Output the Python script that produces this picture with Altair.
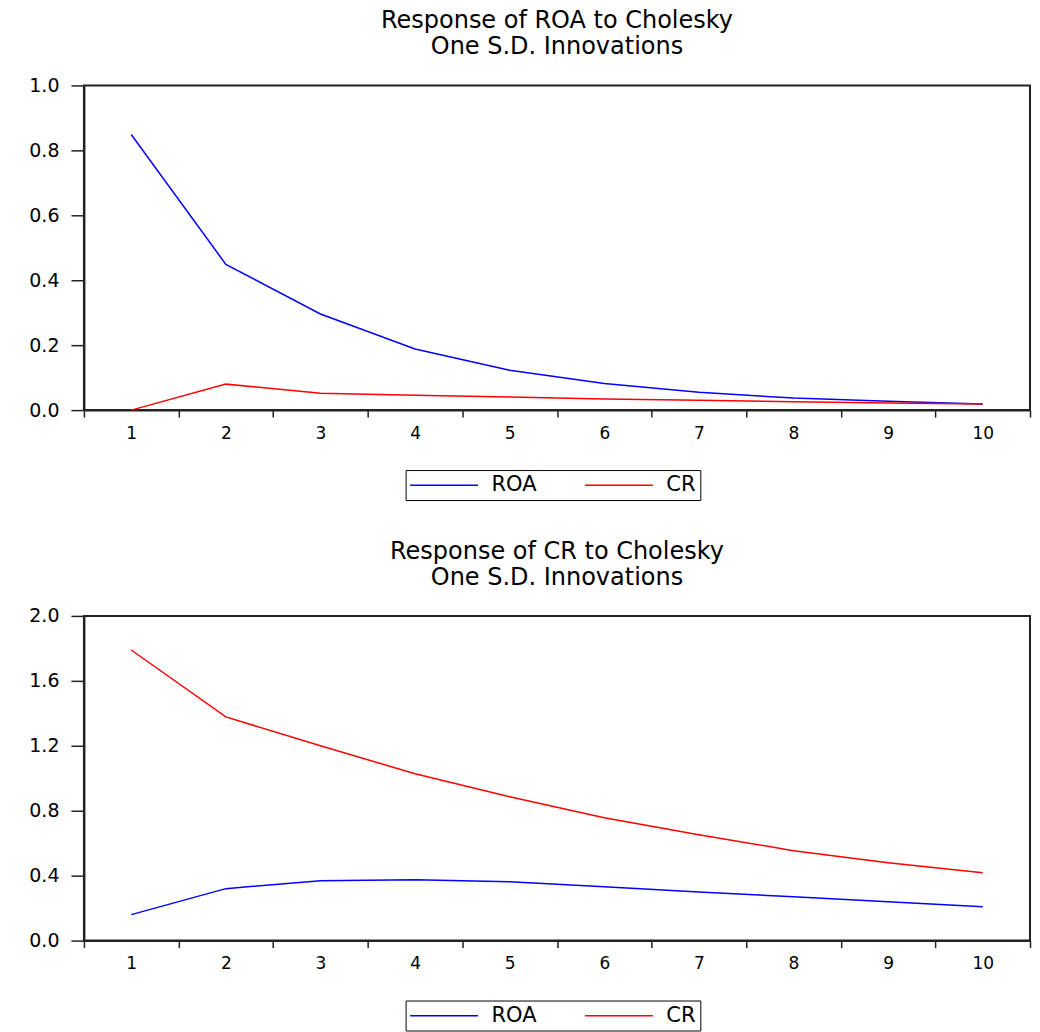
import altair as alt
import pandas as pd

periods = ["1", "2", "3", "4", "5", "6", "7", "8", "9", "10"]
series_names = ["ROA", "CR"]
series_colors = ["#0000FF", "#FF0000"]

# Response of ROA
roa_to_roa = [0.849, 0.449, 0.296, 0.188, 0.123, 0.082, 0.055, 0.037, 0.027, 0.019]
roa_to_cr = [0.000, 0.080, 0.052, 0.046, 0.040, 0.034, 0.030, 0.026, 0.022, 0.019]
# Response of CR
cr_to_roa = [0.160, 0.320, 0.369, 0.375, 0.363, 0.332, 0.300, 0.270, 0.240, 0.209]
cr_to_cr = [1.790, 1.378, 1.200, 1.028, 0.886, 0.757, 0.652, 0.554, 0.480, 0.418]

y_ticks_top = [0.0, 0.2, 0.4, 0.6, 0.8, 1.0]
y_ticks_bottom = [0.0, 0.4, 0.8, 1.2, 1.6, 2.0]

title_top = ["Response of ROA to Cholesky", "One S.D. Innovations"]
title_bottom = ["Response of CR to Cholesky", "One S.D. Innovations"]

FONT = "DejaVu Sans"
PLOT_W = 947
PLOT_H = 325


def long_df(a, b):
    rows = []
    for p, v in zip(periods, a):
        rows.append({"period": p, "series": series_names[0], "value": v})
    for p, v in zip(periods, b):
        rows.append({"period": p, "series": series_names[1], "value": v})
    return pd.DataFrame(rows)


def panel(df, title, ticks, legend_y):
    return (
        alt.Chart(df)
        .mark_line(strokeWidth=1.5)
        .encode(
            x=alt.X(
                "period:O",
                sort=periods,
                bandPosition=0.5,
                scale=alt.Scale(type="band", paddingInner=0, paddingOuter=0),
                axis=alt.Axis(
                    title=None,
                    labelAngle=0,
                    tickBand="extent",
                    tickSize=7,
                    labelPadding=8,
                    labelFontSize=17,
                ),
            ),
            y=alt.Y(
                "value:Q",
                scale=alt.Scale(domain=[ticks[0], ticks[-1]], nice=False),
                axis=alt.Axis(
                    title=None,
                    values=ticks,
                    format=".1f",
                    tickSize=13,
                    labelPadding=12,
                    labelFontSize=19,
                    minExtent=75,
                    maxExtent=75,
                ),
            ),
            color=alt.Color(
                "series:N",
                scale=alt.Scale(domain=series_names, range=series_colors),
                legend=alt.Legend(
                    title=None,
                    orient="none",
                    direction="horizontal",
                    legendX=322,
                    legendY=legend_y,
                    symbolType="M-4,0L4,0",
                    symbolSize=289,
                    symbolStrokeWidth=1.5,
                    symbolOffset=23.5,
                    labelFontSize=21,
                    labelFont=FONT,
                    labelColor="#000000",
                    labelOffset=37,
                    columnPadding=45,
                    padding=4.5,
                    strokeColor="#000000",
                ),
            ),
        )
        .properties(
            width=PLOT_W,
            height=PLOT_H,
            title=alt.Title(
                title,
                fontSize=24,
                font=FONT,
                fontWeight="normal",
                color="#000000",
                anchor="middle",
                frame="group",
                lineHeight=26,
                offset=17,
            ),
        )
    )


top = panel(long_df(roa_to_roa, roa_to_cr), title_top, y_ticks_top, 385)
bottom = panel(long_df(cr_to_roa, cr_to_cr), title_bottom, y_ticks_bottom, 385)

chart = (
    alt.vconcat(top, bottom, spacing=37)
    .resolve_legend(color="independent")
    .properties(padding={"left": 0, "top": 0, "right": 0, "bottom": 0})
    .configure_view(stroke="#222222", strokeWidth=2)
    .configure_axis(
        grid=False,
        domainColor="#222222",
        domainWidth=2,
        tickColor="#222222",
        tickWidth=1.5,
        labelColor="#000000",
        labelFont=FONT,
    )
)

chart.save("out.html", embed_options={"renderer": "svg", "actions": False})
